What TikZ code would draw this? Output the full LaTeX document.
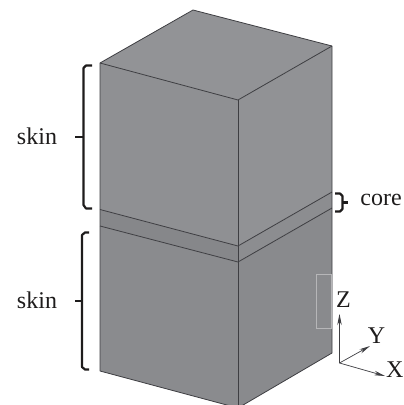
\documentclass[tikz,border=0pt]{standalone}
\usepackage{fontspec}
\setmainfont{Liberation Serif}
\usetikzlibrary{arrows.meta}
\definecolor{faceL}{RGB}{143,144,147}
\definecolor{faceT}{RGB}{146,147,150}
\definecolor{faceR}{RGB}{145,146,149}
\definecolor{coreL}{RGB}{134,135,138}
\definecolor{coreR}{RGB}{140,141,144}
\definecolor{lowL}{RGB}{138,139,142}
\definecolor{lowR}{RGB}{137,138,141}
\definecolor{edge}{RGB}{62,62,66}
\definecolor{ink}{RGB}{30,28,28}
\definecolor{faint}{RGB}{182,182,184}
\tikzset{
  x=1pt,y=-1pt,
  edgeline/.style={draw=edge,line width=0.8pt,line join=round},
  bracketline/.style={draw=ink,line width=2.2pt,line join=round},
  axisline/.style={draw=edge,line width=0.7pt},
  axisarrow/.style={axisline,-{Stealth[length=11pt,width=4.5pt]}},
  lab/.style={font=\fontsize{24}{26}\selectfont,text=ink,inner sep=0pt,anchor=base}
}
\begin{document}
\begin{tikzpicture}
\useasboundingbox (0,0) rectangle (404,405);
\begin{scope}
\clip (0,0) rectangle (404,405);
% corners
\coordinate (tb) at (193,10);
\coordinate (tl) at (100,63);
\coordinate (tf) at (238,100);
\coordinate (tr) at (332,46);
\coordinate (c1l) at (100,209.5);
\coordinate (c1f) at (238,246);
\coordinate (c1r) at (332,192);
\coordinate (c2l) at (100,226);
\coordinate (c2f) at (238,262);
\coordinate (c2r) at (332,208);
\coordinate (bl) at (100,371);
\coordinate (bf) at (238,408);
\coordinate (br) at (332,353);
% faces
\fill[faceT] (tb)--(tr)--(tf)--(tl)--cycle;
\fill[faceL] (tl)--(tf)--(c1f)--(c1l)--cycle;
\fill[faceR] (tf)--(tr)--(c1r)--(c1f)--cycle;
\fill[coreL] (c1l)--(c1f)--(c2f)--(c2l)--cycle;
\fill[coreR] (c1f)--(c1r)--(c2r)--(c2f)--cycle;
\fill[lowL] (c2l)--(c2f)--(bf)--(bl)--cycle;
\fill[lowR] (c2f)--(c2r)--(br)--(bf)--cycle;
% edges
\draw[edgeline] (tl)--(tb)--(tr)--(br)--(bf)--(bl)--cycle;
\draw[edgeline] (tl)--(tf)--(tr);
\draw[edgeline] (tf)--(bf);
\draw[edgeline] (c1l)--(c1f)--(c1r);
\draw[edgeline] (c2l)--(c2f)--(c2r);
\end{scope}
% faint rectangle
\draw[draw=faint,line width=0.5pt] (316.5,274) rectangle (331.5,328.5);
% brackets
\draw[bracketline] (92,65.5)--(86,65.5)--(83.5,68)--(83.5,205)--(86,208.5)--(92,208.5);
\draw[bracketline] (75,137)--(83.5,137);
\draw[bracketline] (89,232.5)--(85,232.5)--(82,235)--(82,367)--(85,369.5)--(89,369.5);
\draw[bracketline] (75,301)--(82,301);
\draw[bracketline] (335,193.5)--(340,193.5)--(342.5,196)--(342.5,209)--(340,211.5)--(335,211.5);
\draw[bracketline] (342.5,202.5)--(347.5,202.5);
% labels
\node[lab] (skinA) at (37,144) {skin};
\node[lab] (skinB) at (37,308) {skin};
\node[lab] (core) at (381,205) {core};
\node[lab] (labZ) at (343.5,307) {Z};
\node[lab] (labY) at (376.5,343) {Y};
\node[lab] (labX) at (394.8,377) {X};
% axes
\coordinate (o) at (339.5,363);
\coordinate (zt) at (339.5,314);
\coordinate (yt) at (370,346);
\coordinate (xt) at (385,376);
\draw[axisarrow] (o)--(zt);
\draw[axisarrow] (o)--(yt);
\draw[axisarrow] (o)--(xt);
\end{tikzpicture}
\end{document}
